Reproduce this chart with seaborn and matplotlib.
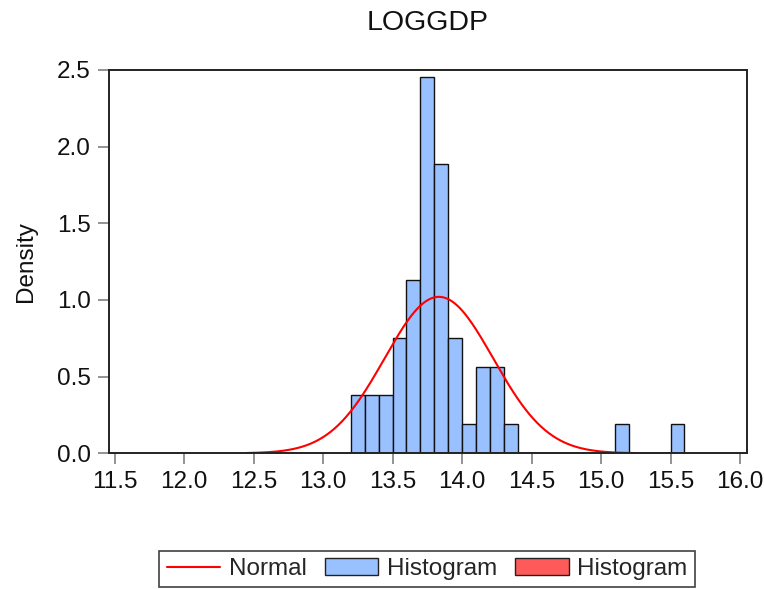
"""LOGGDP histogram with fitted normal density (EViews style)."""

import matplotlib
matplotlib.use("Agg")
import matplotlib.pyplot as plt
from matplotlib.lines import Line2D
from matplotlib.patches import Patch
import numpy as np
import seaborn as sns

# data
bin_left = [13.2, 13.3, 13.4, 13.5, 13.6, 13.7, 13.8, 13.9, 14.0, 14.1, 14.2, 14.3, 15.1, 15.5]
counts = [2, 2, 2, 4, 6, 13, 10, 4, 1, 3, 3, 1, 1, 1]
bin_width = 0.1
normal_mean = 13.833
normal_sd = 0.391
curve_range = (12.45, 15.25)
x_ticks = [11.5, 12.0, 12.5, 13.0, 13.5, 14.0, 14.5, 15.0, 15.5, 16.0]
y_ticks = [0.0, 0.5, 1.0, 1.5, 2.0, 2.5]

BAR_BLUE = "#99c0ff"
PATCH_RED = "#ff5a5a"
LINE_RED = "#ff0000"

sns.set_theme(style="white")
plt.rcParams["font.family"] = ["Liberation Sans", "DejaVu Sans"]

fig = plt.figure(figsize=(7.64, 5.89), dpi=100)
ax = fig.add_axes([0.1423, 0.2304, 0.835, 0.6508])

centers = np.array(bin_left) + bin_width / 2
sns.histplot(x=centers, weights=counts, binwidth=bin_width, binrange=(13.2, 15.6),
             stat="density", color=BAR_BLUE, alpha=1.0, edgecolor="#111111",
             linewidth=1.0, ax=ax)

xs = np.linspace(curve_range[0], curve_range[1], 400)
pdf = np.exp(-0.5 * ((xs - normal_mean) / normal_sd) ** 2) / (normal_sd * np.sqrt(2 * np.pi))
sns.lineplot(x=xs, y=pdf, color=LINE_RED, linewidth=1.5, ax=ax)

ax.set_xlim(11.457, 16.048)
ax.set_ylim(0, 2.5)
ax.set_xticks(x_ticks)
ax.set_xticklabels([f"{t:.1f}" for t in x_ticks])
ax.set_yticks(y_ticks)
ax.set_yticklabels([f"{t:.1f}" for t in y_ticks])
ax.tick_params(axis="both", direction="out", length=8, width=1.2, color="#808080",
               labelsize=17.5, labelcolor="#111111", bottom=True, left=True, top=False, right=False)
ax.tick_params(axis="y", pad=5)
ax.tick_params(axis="x", pad=5)
for s in ax.spines.values():
    s.set_color("#222222")
    s.set_linewidth(1.4)

ax.set_xlabel("")
ax.set_ylabel("Density", fontsize=17.5, color="#111111", labelpad=14)
fig.text(0.5 * (0.1423 + 0.9773), 1 - 23 / 589, "LOGGDP", ha="center", va="center",
         fontsize=20.5, color="#111111")

handles = [
    Line2D([0], [0], color=LINE_RED, linewidth=1.5),
    Patch(facecolor=BAR_BLUE, edgecolor="#222222", linewidth=1.0),
    Patch(facecolor=PATCH_RED, edgecolor="#222222", linewidth=1.0),
]
leg = fig.legend(handles, ["Normal", "Histogram", "Histogram"], loc="center",
                 bbox_to_anchor=(427 / 764, 1 - 569 / 589), ncol=3, fontsize=17.5,
                 frameon=True, fancybox=False, handlelength=2.2, handleheight=0.7,
                 handletextpad=0.35, columnspacing=0.75, borderpad=0.3, borderaxespad=0)
leg.get_frame().set_edgecolor("#111111")
leg.get_frame().set_linewidth(1.2)

fig.savefig("out.png", dpi=100)
